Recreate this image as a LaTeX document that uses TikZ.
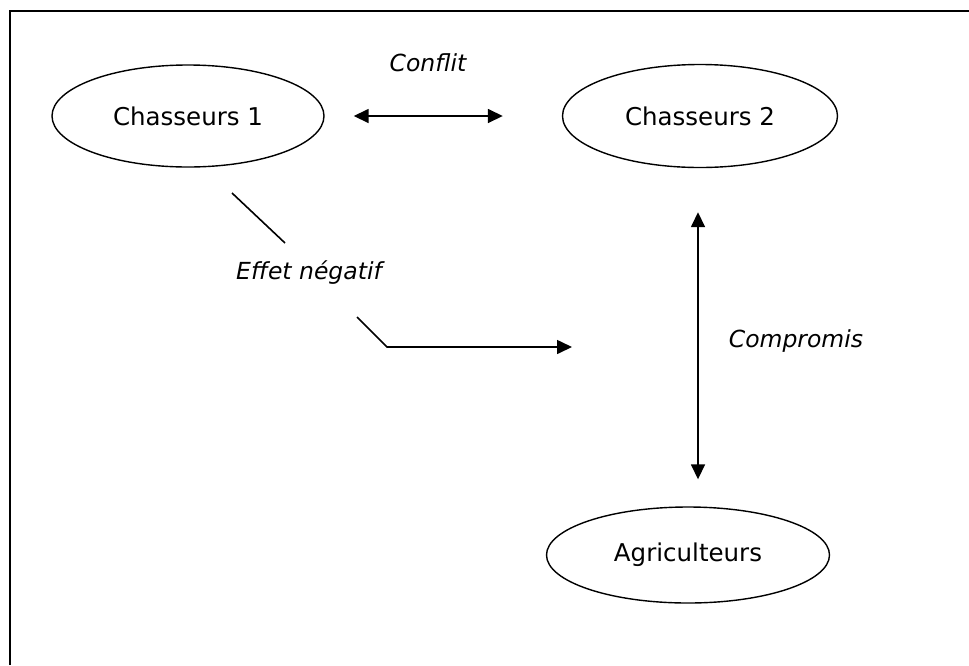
\documentclass[tikz,border=0pt]{standalone}
\usepackage{fontspec}
\setmainfont{DejaVu Sans}
\usetikzlibrary{shapes.geometric,arrows.meta}
\begin{document}
\begin{tikzpicture}[x=1pt,y=-1pt,
    acteur/.style={ellipse,draw=black,line width=1.4pt,inner sep=0pt,font=\fontsize{24.5}{28}\selectfont},
    lien/.style={font=\fontsize{23.5}{27}\selectfont\itshape},
    fleche/.style={line width=1.6pt,-{Triangle[length=15pt,width=14pt]}},
    dfleche/.style={line width=1.6pt,{Triangle[length=15pt,width=14pt]}-{Triangle[length=15pt,width=14pt]}}]
    \useasboundingbox (0,0) rectangle (969,665);
    \draw[line width=2pt] (10,665) -- (10,10.5) -- (969,10.5);

    \node[acteur,minimum width=272pt,minimum height=102pt] (chas1) at (188,116) {Chasseurs 1};
    \node[acteur,minimum width=275pt,minimum height=103pt] (chas2) at (700,116) {Chasseurs 2};
    \node[acteur,minimum width=283pt,minimum height=96pt] (agri) at (688,555) {Agriculteurs};

    \node[lien] (lconf) at (428,63) {Conflit};
    \node[lien] (lcomp) at (796,341) {Compromis};
    \node[lien] (lneg) at (309,273) {Effet négatif};

    \coordinate (neg1) at (232,193);
    \coordinate (neg2) at (285,243);
    \coordinate (neg3) at (357,317);
    \coordinate (neg4) at (387,347);
    \coordinate (neg5) at (572,347);

    \draw[dfleche] ([xshift=29pt]chas1.east) -- ([xshift=-59pt]chas2.west);
    \draw[dfleche] ([xshift=-2pt,yshift=-44pt]chas2.south) -- ([xshift=10pt,yshift=27pt]agri.north);
    \draw[line width=1.6pt] (neg1) -- (neg2);
    \draw[fleche] (neg3) -- (neg4) -- (neg5);
\end{tikzpicture}
\end{document}
